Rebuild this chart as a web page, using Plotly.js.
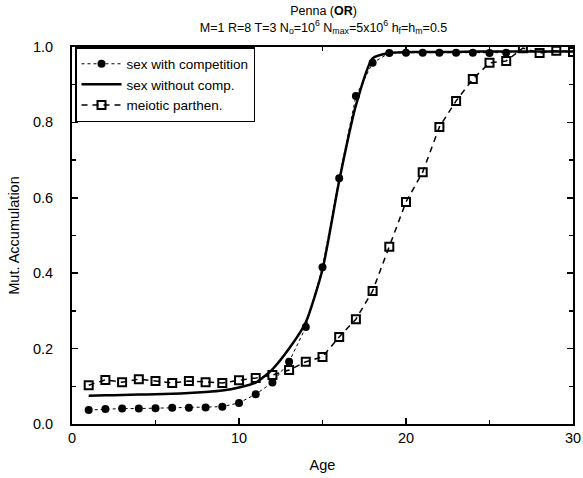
<!DOCTYPE html>
<html><head><meta charset="utf-8">
<script src="https://cdn.plot.ly/plotly-3.0.1.min.js"></script>
<style>html,body{margin:0;padding:0;background:#fff}#c{width:583px;height:478px}</style>
</head><body><div id="c"></div>
<script>
const ageComp = [1,2,3,4,5,6,7,8,9,10,11,12,13,14,15,16,17,18,19,20,21,22,23,24,25,26];
const sexComp = [0.037,0.040,0.041,0.041,0.042,0.043,0.043,0.044,0.046,0.056,0.079,0.11,0.165,0.257,0.416,0.652,0.87,0.958,0.984,0.985,0.985,0.985,0.985,0.985,0.984,0.985];
const ageNoComp = [1,2,3,4,5,6,7,8,9,10,11,12,13,14,15,16,17,18,19,20,21,22,23,24,25,26,27,28,29,30];
const sexNoComp = [0.075,0.076,0.077,0.078,0.079,0.080,0.082,0.085,0.089,0.097,0.11,0.145,0.2,0.27,0.41,0.645,0.845,0.97,0.984,0.986,0.987,0.987,0.987,0.988,0.988,0.988,0.988,0.988,0.988,0.988];
const agePar = [1,2,3,4,5,6,7,8,9,10,11,12,13,14,15,16,17,18,19,20,21,22,23,24,25,26,27,28,29,30];
const parth = [0.103,0.117,0.111,0.119,0.114,0.109,0.114,0.111,0.109,0.116,0.122,0.13,0.143,0.165,0.178,0.231,0.278,0.353,0.47,0.589,0.668,0.788,0.857,0.915,0.958,0.963,0.997,0.984,0.99,0.987];
const names = ['sex with competition','sex without comp.','meiotic parthen.'];

const traces = [
  {x: ageComp, y: sexComp, name: names[0], mode: 'lines+markers',
   line: {color: '#000', width: 1, dash: 'dot'},
   marker: {symbol: 'circle', size: 8, color: '#000'}},
  {x: ageNoComp, y: sexNoComp, name: names[1], mode: 'lines',
   line: {color: '#000', width: 2.5, shape: 'spline', smoothing: 0.6}},
  {x: agePar, y: parth, name: names[2], mode: 'lines+markers',
   line: {color: '#000', width: 1.5, dash: '6px,5px'},
   marker: {symbol: 'square-open', size: 8, color: '#000', line: {width: 2, color: '#000'}}}
];

const font = {family: 'Liberation Sans, Arial, sans-serif', color: '#000'};
const layout = {
  width: 583, height: 478,
  margin: {l: 72, r: 10, t: 47, b: 54},
  paper_bgcolor: '#fff', plot_bgcolor: '#fff',
  font: font,
  showlegend: true,
  title: {text: 'Penna (<b>OR</b>)<br>M=1 R=8 T=3 N<sub>o</sub>=10<sup>6</sup> N<sub>max</sub>=5x10<sup>6</sup> h<sub>f</sub>=h<sub>m</sub>=0.5',
    font: {family: font.family, size: 12.5, color: '#000'}, x: 0.555, xanchor: 'center', y: 0.968, yanchor: 'top'},
  xaxis: {range: [0, 30], tickvals: [0,10,20,30], ticktext: ['0','10','20','30'],
    ticks: 'inside', ticklen: 6, tickwidth: 1.5, tickcolor: '#000',
    minor: {tickvals: [5,15,25], ticks: 'inside', ticklen: 4, tickcolor: '#000'},
    showline: true, linewidth: 2, linecolor: '#000', mirror: 'ticks',
    showgrid: false, zeroline: false,
    tickfont: {family: font.family, size: 14.5, color: '#000'},
    title: {text: 'Age', font: {family: font.family, size: 14.5, color: '#000'}, standoff: 14}},
  yaxis: {range: [0, 1], tickvals: [0,0.2,0.4,0.6,0.8,1.0], ticktext: ['0.0','0.2','0.4','0.6','0.8','1.0'],
    ticks: 'inside', ticklen: 6, tickwidth: 1.5, tickcolor: '#000',
    minor: {tickvals: [0.1,0.3,0.5,0.7,0.9], ticks: 'inside', ticklen: 4, tickcolor: '#000'},
    showline: true, linewidth: 2, linecolor: '#000', mirror: 'ticks',
    showgrid: false, zeroline: false, ticklabelstandoff: 14,
    tickfont: {family: font.family, size: 14.5, color: '#000'},
    title: {text: 'Mut. Accumulation', font: {family: font.family, size: 14.5, color: '#000'}, standoff: 10}},
  legend: {x: 0.006, y: 1.0, xanchor: 'left', yanchor: 'top',
    bgcolor: '#fff', bordercolor: '#000', borderwidth: 1.5,
    font: {family: font.family, size: 13.5, color: '#000'},
    tracegroupgap: 0, itemwidth: 40}
};
Plotly.newPlot('c', traces, layout, {displayModeBar: false, staticPlot: true});
</script></body></html>
